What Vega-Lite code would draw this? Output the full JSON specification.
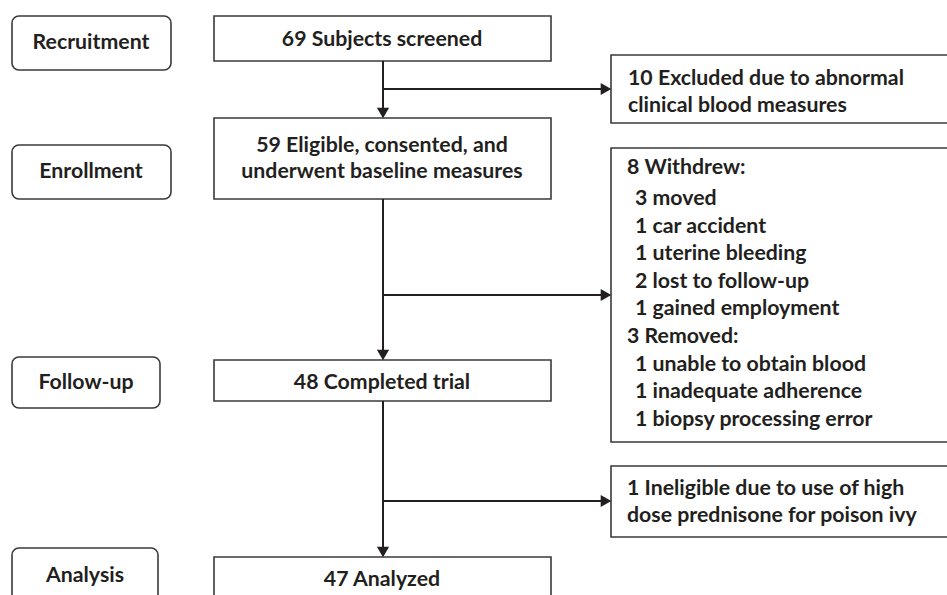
{
  "$schema": "https://vega.github.io/schema/vega-lite/v6.json",
  "width": 947,
  "height": 595,
  "autosize": {"type": "fit", "contains": "padding"},
  "padding": 0,
  "background": "white",
  "config": {"view": {"stroke": null}},
  "datasets": {
    "roundBoxes": [
      {"x1": 12, "x2": 171, "y1": 16, "y2": 70},
      {"x1": 12, "x2": 171, "y1": 145, "y2": 199},
      {"x1": 12, "x2": 160, "y1": 357, "y2": 408},
      {"x1": 12, "x2": 158, "y1": 548, "y2": 610}
    ],
    "boxes": [
      {"x1": 214, "x2": 551, "y1": 16, "y2": 61},
      {"x1": 214, "x2": 551, "y1": 118, "y2": 199},
      {"x1": 214, "x2": 551, "y1": 360, "y2": 401},
      {"x1": 214, "x2": 551, "y1": 557, "y2": 610},
      {"x1": 611, "x2": 970, "y1": 55, "y2": 123},
      {"x1": 611, "x2": 970, "y1": 148, "y2": 442},
      {"x1": 611, "x2": 970, "y1": 466, "y2": 537}
    ],
    "links": [
      {"x1": 383, "x2": 383, "y1": 61, "y2": 112},
      {"x1": 383, "x2": 605, "y1": 89, "y2": 89},
      {"x1": 383, "x2": 383, "y1": 199, "y2": 354},
      {"x1": 383, "x2": 605, "y1": 295, "y2": 295},
      {"x1": 383, "x2": 383, "y1": 401, "y2": 551},
      {"x1": 383, "x2": 605, "y1": 501, "y2": 501}
    ],
    "downTips": [
      {"x": 383, "y": 118},
      {"x": 383, "y": 360},
      {"x": 383, "y": 557}
    ],
    "rightTips": [
      {"x": 611, "y": 89},
      {"x": 611, "y": 295},
      {"x": 611, "y": 501}
    ],
    "centerText": [
      {"t": "Recruitment", "x": 91, "y": 43},
      {"t": "Enrollment", "x": 91, "y": 172},
      {"t": "Follow-up", "x": 86, "y": 383},
      {"t": "Analysis", "x": 85, "y": 576},
      {"t": "69 Subjects screened", "x": 382, "y": 40},
      {"t": "59 Eligible, consented, and", "x": 382, "y": 146},
      {"t": "underwent baseline measures", "x": 382, "y": 172},
      {"t": "48 Completed trial", "x": 382, "y": 383},
      {"t": "47 Analyzed", "x": 382, "y": 580}
    ],
    "leftText": [
      {"t": "10 Excluded due to abnormal", "x": 628, "y": 79},
      {"t": "clinical blood measures", "x": 628, "y": 106},
      {"t": "8 Withdrew:", "x": 627, "y": 168},
      {"t": "3 moved", "x": 635, "y": 199},
      {"t": "1 car accident", "x": 635, "y": 227},
      {"t": "1 uterine bleeding", "x": 635, "y": 254},
      {"t": "2 lost to follow-up", "x": 635, "y": 282},
      {"t": "1 gained employment", "x": 635, "y": 309},
      {"t": "3 Removed:", "x": 627, "y": 337},
      {"t": "1 unable to obtain blood", "x": 635, "y": 365},
      {"t": "1 inadequate adherence", "x": 635, "y": 392},
      {"t": "1 biopsy processing error", "x": 635, "y": 420},
      {"t": "1 Ineligible due to use of high", "x": 627, "y": 489},
      {"t": "dose prednisone for poison ivy", "x": 627, "y": 516}
    ]
  },
  "encoding": {
    "x": {"field": "x1", "type": "quantitative", "scale": {"domain": [0, 947], "nice": false, "zero": false}, "axis": null},
    "y": {"field": "y1", "type": "quantitative", "scale": {"domain": [0, 595], "nice": false, "zero": false, "reverse": true}, "axis": null}
  },
  "layer": [
    {
      "data": {"name": "roundBoxes"},
      "mark": {"type": "rect", "fill": "white", "stroke": "#3a3a3a", "strokeWidth": 1.6, "cornerRadius": 7, "clip": true},
      "encoding": {"x2": {"field": "x2"}, "y2": {"field": "y2"}}
    },
    {
      "data": {"name": "boxes"},
      "mark": {"type": "rect", "fill": "white", "stroke": "#3a3a3a", "strokeWidth": 1.6, "clip": true},
      "encoding": {"x2": {"field": "x2"}, "y2": {"field": "y2"}}
    },
    {
      "data": {"name": "links"},
      "mark": {"type": "rule", "stroke": "#231f20", "strokeWidth": 2},
      "encoding": {"x2": {"field": "x2"}, "y2": {"field": "y2"}}
    },
    {
      "data": {"name": "downTips"},
      "mark": {"type": "point", "shape": "triangle-down", "filled": true, "color": "#231f20", "size": 150, "opacity": 1, "yOffset": -5},
      "encoding": {
        "x": {"field": "x", "type": "quantitative"},
        "y": {"field": "y", "type": "quantitative"}
      }
    },
    {
      "data": {"name": "rightTips"},
      "mark": {"type": "point", "shape": "triangle-right", "filled": true, "color": "#231f20", "size": 150, "opacity": 1, "xOffset": -5},
      "encoding": {
        "x": {"field": "x", "type": "quantitative"},
        "y": {"field": "y", "type": "quantitative"}
      }
    },
    {
      "data": {"name": "centerText"},
      "mark": {"type": "text", "font": "Lato", "fontWeight": "bold", "fontSize": 21.3, "color": "#231f20", "align": "center", "baseline": "middle"},
      "encoding": {
        "x": {"field": "x", "type": "quantitative"},
        "y": {"field": "y", "type": "quantitative"},
        "text": {"field": "t"}
      }
    },
    {
      "data": {"name": "leftText"},
      "mark": {"type": "text", "font": "Lato", "fontWeight": "bold", "fontSize": 21.3, "color": "#231f20", "align": "left", "baseline": "middle"},
      "encoding": {
        "x": {"field": "x", "type": "quantitative"},
        "y": {"field": "y", "type": "quantitative"},
        "text": {"field": "t"}
      }
    }
  ]
}
